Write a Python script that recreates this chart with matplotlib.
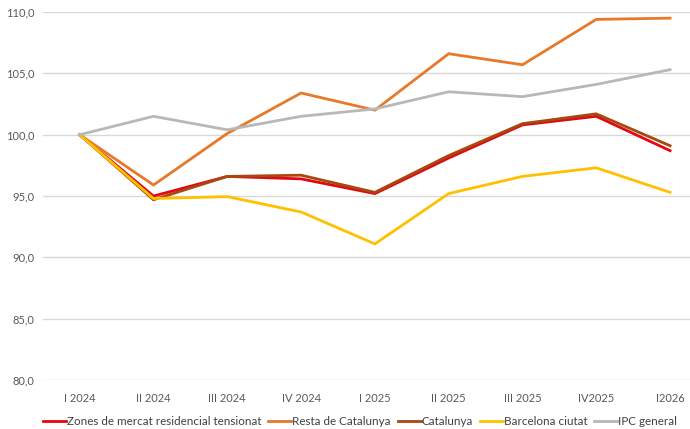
import matplotlib
matplotlib.use("Agg")
import matplotlib.pyplot as plt
from matplotlib.ticker import FuncFormatter

plt.rcParams["font.family"] = ["Lato", "DejaVu Sans"]

quarters = ["I 2024", "II 2024", "III 2024", "IV 2024", "I 2025",
            "II 2025", "III 2025", "IV2025", "I2026"]

zones = [100.0, 95.0, 96.6, 96.4, 95.2, 98.1, 100.8, 101.5, 98.7]
resta = [100.0, 95.9, 100.1, 103.4, 102.0, 106.6, 105.7, 109.4, 109.5]
catalunya = [100.0, 94.7, 96.6, 96.7, 95.3, 98.3, 100.9, 101.7, 99.1]
barcelona = [100.0, 94.8, 94.95, 93.7, 91.1, 95.2, 96.6, 97.3, 95.3]
ipc = [100.0, 101.5, 100.4, 101.5, 102.1, 103.5, 103.1, 104.1, 105.3]

series = [
    ("Zones de mercat residencial tensionat", zones, "#E30613"),
    ("Resta de Catalunya", resta, "#E8782A"),
    ("Catalunya", catalunya, "#A8480F"),
    ("Barcelona ciutat", barcelona, "#FFC000"),
    ("IPC general", ipc, "#B8B8B8"),
]

fig = plt.figure(figsize=(6.9, 4.29), dpi=100)
ax = fig.add_axes([0.062, 0.114, 0.938, 0.858])

x = list(range(len(quarters)))
for label, vals, color in series:
    ax.plot(x, vals, color=color, lw=2.0, label=label, solid_joinstyle="miter")

ax.set_ylim(80, 110)
ax.set_yticks(range(80, 111, 5))
ax.yaxis.set_major_formatter(FuncFormatter(lambda v, p: f"{v:.1f}".replace(".", ",")))
ax.set_xlim(-0.5, 8.27)
ax.set_xticks(x)
ax.set_xticklabels(quarters)
ax.grid(True, axis="y", color="#D9D9D9", lw=1)
ax.set_axisbelow(True)
for s in ax.spines.values():
    s.set_visible(False)
ax.tick_params(length=0, labelsize=8, colors="#595959")
ax.tick_params(axis="x", pad=9)
ax.tick_params(axis="y", pad=6)

ax.legend(loc="upper center", bbox_to_anchor=(0.49, -0.068), ncol=5, frameon=False,
          fontsize=8.4, handlelength=2.0, handletextpad=0.05, columnspacing=0.6,
          labelcolor="#404040")

fig.savefig("out.png", dpi=100)
